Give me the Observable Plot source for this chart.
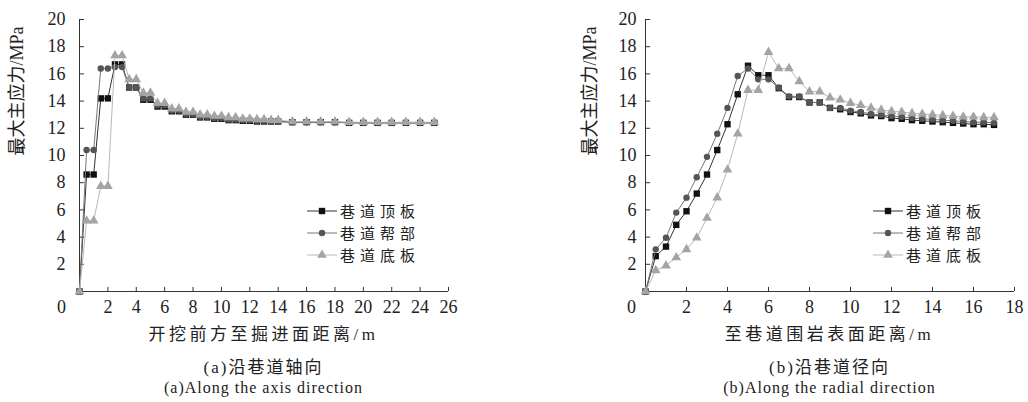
<!DOCTYPE html>
<html>
<head>
<meta charset="utf-8">
<script src="https://cdn.jsdelivr.net/npm/d3@7"></script>
<script src="https://cdn.jsdelivr.net/npm/@observablehq/plot@0.6"></script>
<style>
  html, body { margin: 0; padding: 0; background: #fff; }
  #wrap { position: relative; width: 1028px; height: 402px; overflow: hidden; background: #fff; }
  .panel { position: absolute; top: 0; width: 514px; height: 402px; }
  .panel svg { position: absolute; left: 0; top: 0; }
  .ctext { position: absolute; width: 420px; text-align: center; color: #222; white-space: nowrap; }
  .cjk { font-family: "Liberation Serif", "Noto Sans CJK SC", serif; }
  .legend { position: absolute; font-family: "Noto Sans CJK SC", sans-serif; font-size: 15px; letter-spacing: 5px; color: #222; line-height: 20px; }
  .legend .row { position: absolute; left: 0; height: 20px; line-height: 20px; display: flex; align-items: center; white-space: nowrap; }
  .legend .row span { line-height: 20px; display: inline-block; height: 20px; }
  .legend svg { position: static; }
</style>
</head>
<body>
<div id="wrap">
  <div class="panel" id="pa" style="left:0px"></div>
  <div class="panel" id="pb" style="left:514px"></div>
</div>
<script>
// ---------- data ----------
const yTicks = [2, 4, 6, 8, 10, 12, 14, 16, 18, 20];
const xTicksA = [2, 4, 6, 8, 10, 12, 14, 16, 18, 20, 22, 24, 26];
const xTicksB = [2, 4, 6, 8, 10, 12, 14, 16, 18];
const seriesNames = ["巷道顶板", "巷道帮部", "巷道底板"];

// (a) along the axis direction
const axialX = [0, 0.5, 1, 1.5, 2, 2.5, 3, 3.5, 4, 4.5, 5, 5.5, 6, 6.5, 7, 7.5, 8, 8.5, 9, 9.5, 10,
  10.5, 11, 11.5, 12, 12.5, 13, 13.5, 14, 15, 16, 17, 18, 19, 20, 21, 22, 23, 24, 25];
const axialRoof = [0, 8.6, 8.6, 14.2, 14.2, 16.7, 16.7, 15.0, 15.0, 14.1, 14.1, 13.6, 13.6, 13.25, 13.25,
  13.0, 13.0, 12.8, 12.8, 12.7, 12.7, 12.6, 12.6, 12.55, 12.55, 12.5, 12.5, 12.5, 12.5,
  12.45, 12.45, 12.45, 12.45, 12.4, 12.4, 12.4, 12.4, 12.4, 12.4, 12.4];
const axialSide = [0, 10.4, 10.4, 16.4, 16.4, 16.5, 16.5, 15.0, 15.0, 14.2, 14.2, 13.7, 13.7, 13.3, 13.3,
  13.05, 13.05, 12.85, 12.85, 12.75, 12.75, 12.65, 12.65, 12.6, 12.6, 12.55, 12.55, 12.5, 12.5,
  12.45, 12.45, 12.45, 12.45, 12.4, 12.4, 12.4, 12.4, 12.4, 12.4, 12.4];
const axialFloor = [0, 5.2, 5.2, 7.75, 7.75, 17.35, 17.35, 15.6, 15.6, 14.6, 14.6, 13.85, 13.85, 13.45, 13.45,
  13.2, 13.2, 13.0, 13.0, 12.9, 12.9, 12.8, 12.8, 12.7, 12.7, 12.65, 12.65, 12.6, 12.6,
  12.5, 12.5, 12.5, 12.5, 12.45, 12.45, 12.45, 12.45, 12.45, 12.45, 12.45];

// (b) along the radial direction
const radialX = [0, 0.5, 1, 1.5, 2, 2.5, 3, 3.5, 4, 4.5, 5, 5.5, 6, 6.5, 7, 7.5, 8, 8.5, 9, 9.5, 10,
  10.5, 11, 11.5, 12, 12.5, 13, 13.5, 14, 14.5, 15, 15.5, 16, 16.5, 17];
const radialRoof = [0, 2.6, 3.3, 4.9, 5.9, 7.2, 8.6, 10.4, 12.3, 14.5, 16.6, 15.9, 15.9, 14.95, 14.3, 14.3,
  13.9, 13.9, 13.5, 13.4, 13.2, 13.1, 12.95, 12.9, 12.75, 12.7, 12.6, 12.55, 12.5, 12.45, 12.4,
  12.35, 12.3, 12.3, 12.25];
const radialSide = [0, 3.1, 3.95, 5.8, 6.9, 8.4, 9.9, 11.6, 13.5, 15.85, 16.4, 15.6, 15.6, 15.0, 14.35, 14.35,
  13.9, 13.9, 13.5, 13.5, 13.3, 13.2, 13.05, 13.0, 12.9, 12.85, 12.75, 12.7, 12.65, 12.6, 12.55,
  12.5, 12.45, 12.45, 12.4];
const radialFloor = [0, 1.55, 1.9, 2.5, 3.1, 3.95, 5.4, 6.9, 8.95, 11.6, 14.8, 14.8, 17.6, 16.4, 16.4, 15.45,
  14.7, 14.7, 14.25, 14.1, 13.85, 13.7, 13.5, 13.35, 13.25, 13.2, 13.1, 13.05, 13.0, 12.95, 12.9,
  12.85, 12.85, 12.8, 12.8];

// ---------- styles ----------
const styles = [
  {symbol: "square", fill: "#111", line: "#333", r: 3.6},
  {symbol: "circle", fill: "#555", line: "#777", r: 3.2},
  {symbol: "triangle", fill: "#a4a4a4", line: "#b8b8b8", r: 3.6}
];

function table(xs, ys) { return xs.map((x, i) => ({x, y: ys[i]})); }

function makePlot(cfg) {
  const serifFont = "Liberation Serif, Times New Roman, serif";
  const marks = [
    Plot.ruleX([0], {y1: 0, y2: 20, stroke: "#333", strokeWidth: 1}),
    Plot.ruleY([0], {x1: 0, x2: cfg.xmax, stroke: "#333", strokeWidth: 1}),
    Plot.ruleX(cfg.xTicks, {y1: 0, y2: 0.3, stroke: "#333"}),
    Plot.ruleY(yTicks, {x1: 0, x2: cfg.ytickLen, stroke: "#333"}),
    Plot.axisY(yTicks, {tickSize: 0, tickPadding: cfg.yPad, label: null, fontSize: 18, fontFamily: serifFont, fill: "#222"}),
    Plot.axisX(cfg.xTicks, {tickSize: 0, tickPadding: 9, label: null, fontSize: 18, fontFamily: serifFont, fill: "#222"}),
    Plot.text([0], {x: d => d, y: d => d, text: d => String(d), dx: cfg.zeroDx, dy: 16, fontSize: 18, fontFamily: serifFont, fill: "#222"}),
    Plot.text(["最大主应力/MPa"], {frameAnchor: "left", text: d => d, rotate: -90, dx: cfg.titleDx,
      fontSize: 18, fontFamily: "Liberation Serif, Noto Sans CJK SC", fill: "#222", style: "letter-spacing:2px"})
  ];
  cfg.series.forEach((ys, i) => {
    const s = styles[i];
    const data = table(cfg.xs, ys);
    marks.push(Plot.line(data, {x: "x", y: "y", stroke: s.line, strokeWidth: 1}));
    marks.push(Plot.dot(data, {x: "x", y: "y", symbol: () => s.symbol, fill: s.fill, r: s.r, stroke: "none"}));
  });
  return Plot.plot({
    width: 514, height: 318,
    marginLeft: cfg.ml, marginRight: cfg.mr, marginTop: 19, marginBottom: 27,
    x: {domain: [0, cfg.xmax], axis: null},
    y: {domain: [0, 20], axis: null},
    symbol: {type: "identity"},
    style: {background: "transparent", fontFamily: "Liberation Serif", overflow: "visible"},
    marks
  });
}

function addTexts(panel, center, xTitle, cap1, cap2, legendLeft) {
  const mk = (txt, top, size, spacing) => {
    const d = document.createElement("div");
    d.className = "ctext cjk";
    d.style.left = (center - 210) + "px";
    d.style.top = top + "px";
    d.style.fontSize = size + "px";
    d.style.letterSpacing = spacing + "px";
    d.style.lineHeight = "20px";
    d.textContent = txt;
    panel.appendChild(d);
  };
  mk(xTitle, 325, 17, 3.5);
  mk(cap1, 358, 17, 2);
  mk(cap2, 378, 16, 1);
  // legend
  const lg = document.createElement("div");
  lg.className = "legend";
  lg.style.left = legendLeft + "px";
  lg.style.top = "201px";
  seriesNames.forEach((name, i) => {
    const s = styles[i];
    const row = document.createElement("div");
    row.className = "row";
    row.style.top = (i * 22) + "px";
    const sym = d3.symbol(s.symbol === "square" ? d3.symbolSquare : s.symbol === "circle" ? d3.symbolCircle : d3.symbolTriangle,
      Math.PI * s.r * s.r)();
    row.innerHTML = `<svg width="32" height="20"><line x1="1" x2="31" y1="10" y2="10" stroke="${s.line}" stroke-width="1"/>` +
      `<path d="${sym}" transform="translate(16,10)" fill="${s.fill}"/></svg><span style="margin-left:2px">${name}</span>`;
    lg.appendChild(row);
  });
  panel.appendChild(lg);
}

const pa = document.getElementById("pa");
pa.appendChild(makePlot({xs: axialX, series: [axialRoof, axialSide, axialFloor], xmax: 26, xTicks: xTicksA,
  ml: 79, mr: 66, yPad: 14, zeroDx: -18, titleDx: -62, ytickLen: 0.35}));
addTexts(pa, 263.5, "开挖前方至掘进面距离/m", "(a)沿巷道轴向", "(a)Along the axis direction", 306);

const pb = document.getElementById("pb");
pb.appendChild(makePlot({xs: radialX, series: [radialRoof, radialSide, radialFloor], xmax: 18, xTicks: xTicksB,
  ml: 131, mr: 14, yPad: 9, zeroDx: -14, titleDx: -55, ytickLen: 0.25}));
addTexts(pb, 315.5, "至巷道围岩表面距离/m", "(b)沿巷道径向", "(b)Along the radial direction", 358);
</script>
</body>
</html>
